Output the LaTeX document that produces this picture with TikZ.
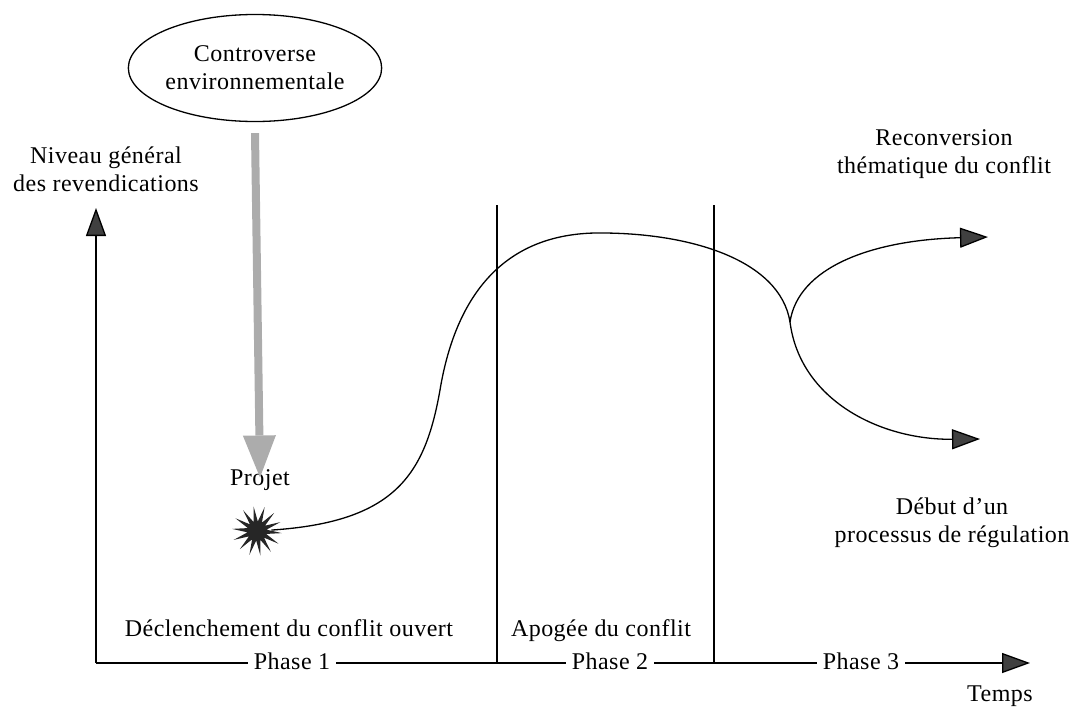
\documentclass[tikz,border=0pt]{standalone}
\usepackage{fontspec}
\setmainfont{Liberation Serif}[LetterSpace=2]
\usetikzlibrary{arrows.meta,shapes.geometric}
\begin{document}
\begin{tikzpicture}[x=1pt,y=-1pt,line width=1.3pt,
  every node/.style={font=\fontsize{24}{28}\selectfont, inner sep=0pt},
  lbl/.style={align=center},
  tip/.style={-{Triangle[length=28pt,width=20pt,fill=black!75]}},
  phaselbl/.style={fill=white, inner xsep=6pt, inner ysep=2pt, anchor=base},
  shaded/.style={line width=8pt, draw=gray!65, -{Triangle[length=42pt,width=33pt,line width=0pt,fill=gray!65]}},
  boom/.style={star, star points=14, star point ratio=2.6, minimum size=50pt, fill=black!85, draw=none}]
\useasboundingbox (0,0) rectangle (1078,715);

% axes
\coordinate (O) at (96,663);
\coordinate (ytip) at (96,208);
\coordinate (xtip) at (1030,663);
\coordinate (v1b) at (497,663);
\coordinate (v1t) at (497,205);
\coordinate (v2b) at (714,663);
\coordinate (v2t) at (714,205);
\draw[tip] (O) -- (ytip);
\draw[tip] (O) -- (xtip);
\draw (v1b) -- (v1t);
\draw (v2b) -- (v2t);

\node[phaselbl] (ph1) at (292,669) {Phase 1};
\node[phaselbl] (ph2) at (610,669) {Phase 2};
\node[phaselbl] (ph3) at (861,669) {Phase 3};
\node[anchor=base] (temps) at (1000,701) {Temps};

\node[anchor=base] (decl) at (289,636) {Déclenchement du conflit ouvert};
\node[anchor=base] (apog) at (601,636) {Apogée du conflit};

% labels
\node[lbl] (niv) at (106,169) {Niveau général\\des revendications};
\node[lbl] (recon) at (944,154) {Reconversion\\thématique du conflit};
\node[lbl] (debut) at (952,523) {Début d’un\\processus de régulation};

% controversy
\node[ellipse, draw, minimum width=220pt, minimum height=107pt, lbl] (ell) at (255,68) {Controverse\\environnementale};
\node[anchor=base] (proj) at (260,485) {Projet};
\draw[shaded] ([yshift=-11pt]ell.south) -- ([yshift=-9pt]proj.north);

% project burst
\node[boom, rotate=8] (star) at (257,531) {};

% curve
\coordinate (br) at (790,322);
\coordinate (upEnd) at (988,237);
\coordinate (loEnd) at (980,439);
\draw (star) .. controls (395,522) and (425,475) .. (440,390)
      .. controls (455,300) and (500,235) .. (595,233)
      .. controls (690,232) and (780,260) .. (br);
\draw[tip] (br) .. controls (798,268) and (870,240) .. (upEnd);
\draw[tip] (br) .. controls (800,400) and (880,440) .. (loEnd);
\end{tikzpicture}
\end{document}
